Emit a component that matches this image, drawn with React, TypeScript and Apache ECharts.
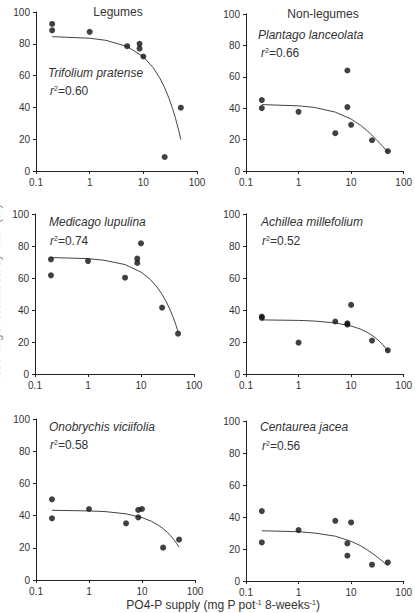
import React, { useEffect, useRef } from "react";
import * as echarts from "echarts";

// P supply doses (x) shared by all panels
const doses = [0.2, 0.2, 1, 5, 8.5, 8.5, 10, 25, 50];
// observed values per species
const trifolium = [92.5, 88.5, 87.5, 78.5, 80, 77, 72, 8.8, 39.8];
const plantago = [45.2, 40.1, 37.7, 24.1, 64, 40.7, 29.4, 19.6, 12.6];
const medicago = [71.7, 61.7, 70.6, 60.2, 72.1, 69.4, 81.7, 41.5, 25.2];
const achillea = [35.9, 35.1, 19.6, 32.8, 31.7, 30.9, 43.2, 20.9, 14.8];
const onobrychis = [50.1, 38.3, 44.1, 35.2, 38.9, 43.5, 44.1, 20.1, 25.1];
const centaurea = [43.7, 24.1, 31.8, 37.6, 23.5, 15.8, 36.6, 10.2, 11.6];

// fitted curves
const fitX = [0.2, 1, 2, 5, 10, 15, 20, 25, 30, 35, 40, 45, 50];
const fitTrifolium = [84.5, 83.5, 82.2, 78.3, 71.8, 65.3, 58.8, 52.3, 45.8, 39.3, 32.8, 26.3, 19.8];
const fitPlantago = [42.3, 41.5, 40.5, 37.5, 33.1, 29.2, 25.8, 22.7, 20.1, 17.7, 15.6, 13.8, 12.2];
const fitMedicago = [72.8, 72.1, 71.1, 68.4, 63.7, 59.1, 54.4, 49.8, 45.1, 40.5, 35.8, 31.2, 26.5];
const fitAchillea = [33.8, 33.5, 33.1, 31.9, 30.0, 28.1, 26.1, 24.2, 22.2, 20.3, 18.3, 16.4, 14.4];
const fitOnobrychis = [43.3, 42.9, 42.5, 41.1, 38.8, 36.5, 34.2, 31.9, 29.6, 27.3, 25.0, 22.7, 20.4];
const fitCentaurea = [31.4, 30.8, 30.0, 28.0, 24.8, 22.1, 19.6, 17.4, 15.5, 13.8, 12.2, 10.8, 9.6];

const speciesNames = [
  "Trifolium pratense",
  "Plantago lanceolata",
  "Medicago lupulina",
  "Achillea millefolium",
  "Onobrychis viciifolia",
  "Centaurea jacea",
];
const r2Values = ["0.60", "0.66", "0.74", "0.52", "0.58", "0.56"];
const groupTitles = ["Legumes", "Non-legumes"];
const xTickLabels = ["0.1", "1", "10", "100"];
const yTicks = [0, 20, 40, 60, 80, 100];
const xTitle = "PO4-P supply";
const yTitle = "Root length colonised by AMF (%)";

const observed = [trifolium, plantago, medicago, achillea, onobrychis, centaurea];
const fitted = [fitTrifolium, fitPlantago, fitMedicago, fitAchillea, fitOnobrychis, fitCentaurea];

const FONT = "'Liberation Sans', Arial, sans-serif";
const TXT = "#333";

const grids = [
  { left: 36, top: 12, width: 161, height: 159 },
  { left: 246, top: 14, width: 165, height: 157 },
  { left: 35, top: 214, width: 159, height: 160 },
  { left: 246, top: 214, width: 161, height: 160 },
  { left: 36, top: 419, width: 159, height: 161 },
  { left: 246, top: 421, width: 163, height: 160 },
];

const speciesPos = [
  [48, 73, 50, 91],
  [258, 35, 261, 53],
  [49, 222, 50, 241],
  [261, 222, 262, 241],
  [49, 427, 50, 445],
  [260, 427, 262, 446],
];

export default function App() {
  const ref = useRef<HTMLDivElement>(null);
  useEffect(() => {
    if (!ref.current) return;
    const chart = echarts.init(ref.current, null, { renderer: "svg" });

    const xAxis = grids.map((_, i) => ({
      type: "log",
      logBase: 10,
      gridIndex: i,
      min: 0.1,
      max: 100,
      axisLine: { show: true, lineStyle: { color: "#222", width: 1 } },
      axisTick: { show: true, length: 3, lineStyle: { color: "#222" } },
      minorTick: { show: false },
      splitLine: { show: false },
      axisLabel: {
        color: TXT,
        fontSize: 10,
        fontFamily: FONT,
        margin: 6,
        formatter: (v: number) => {
          const idx = Math.round(Math.log10(v)) + 1;
          return xTickLabels[idx] ?? String(v);
        },
      },
    }));

    const yAxis = grids.map((_, i) => ({
      type: "value",
      gridIndex: i,
      min: yTicks[0],
      max: yTicks[yTicks.length - 1],
      interval: 20,
      axisLine: { show: true, lineStyle: { color: "#222", width: 1 } },
      axisTick: { show: true, length: 3, lineStyle: { color: "#222" } },
      splitLine: { show: false },
      axisLabel: { color: TXT, fontSize: 10, fontFamily: FONT, margin: 6 },
    }));

    const series: any[] = [];
    observed.forEach((vals, i) => {
      series.push({
        type: "line",
        xAxisIndex: i,
        yAxisIndex: i,
        data: fitX.map((x, k) => [x, fitted[i][k]]),
        showSymbol: false,
        symbol: "none",
        lineStyle: { color: "#444", width: 1 },
        silent: true,
        z: 2,
      });
      series.push({
        type: "scatter",
        xAxisIndex: i,
        yAxisIndex: i,
        data: doses.map((x, k) => [x, vals[k]]),
        symbol: "circle",
        symbolSize: 6,
        itemStyle: { color: "#111" },
        z: 3,
      });
    });

    const graphic: any[] = [];
    graphic.push({
      type: "text",
      x: 118,
      y: 12,
      style: {
        text: groupTitles[0],
        font: `12px ${FONT}`,
        fill: TXT,
        align: "center",
        verticalAlign: "middle",
      },
    });
    graphic.push({
      type: "text",
      x: 323,
      y: 14,
      style: {
        text: groupTitles[1],
        font: `12px ${FONT}`,
        fill: TXT,
        align: "center",
        verticalAlign: "middle",
      },
    });
    speciesNames.forEach((name, i) => {
      const p = speciesPos[i];
      graphic.push({
        type: "text",
        x: p[0],
        y: p[1],
        style: {
          text: name,
          font: `italic 12px ${FONT}`,
          fill: TXT,
          align: "left",
          verticalAlign: "middle",
        },
      });
      graphic.push({
        type: "text",
        x: p[2],
        y: p[3],
        style: {
          text: `{i|r}{s|2}{n|=${r2Values[i]}}`,
          align: "left",
          verticalAlign: "middle",
          rich: {
            i: { fontFamily: FONT, fontSize: 12, fontStyle: "italic", fill: TXT, color: TXT },
            s: { fontFamily: FONT, fontSize: 7, fill: TXT, color: TXT, verticalAlign: "top", padding: [0, 0, 6, 0] },
            n: { fontFamily: FONT, fontSize: 12, fill: TXT, color: TXT },
          },
        },
      });
    });
    graphic.push({
      type: "text",
      x: 223,
      y: 605,
      style: {
        text: `{n|${xTitle} (mg P pot}{s|-1}{n| 8-weeks}{s|-1}{n|)}`,
        align: "center",
        verticalAlign: "middle",
        rich: {
          n: { fontFamily: FONT, fontSize: 12, fill: TXT, color: TXT },
          s: { fontFamily: FONT, fontSize: 7, fill: TXT, color: TXT, verticalAlign: "top", padding: [0, 0, 6, 0] },
        },
      },
    });
    graphic.push({
      type: "text",
      x: -4,
      y: 295,
      rotation: Math.PI / 2,
      style: {
        text: yTitle,
        font: `12px ${FONT}`,
        fill: "#888",
        align: "center",
        verticalAlign: "middle",
      },
    });

    chart.setOption({
      animation: false,
      backgroundColor: "#fff",
      grid: grids.map((g) => ({ ...g, containLabel: false })),
      xAxis,
      yAxis,
      series,
      graphic,
    });
    return () => chart.dispose();
  }, []);

  return (
    <div
      ref={ref}
      style={{ position: "fixed", left: 0, top: 0, width: 415, height: 613 }}
    />
  );
}
